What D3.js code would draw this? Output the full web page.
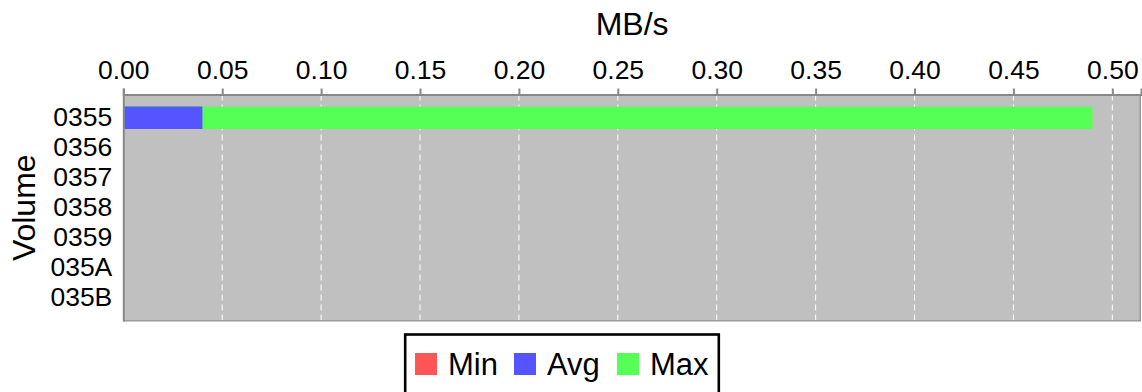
<!DOCTYPE html>
<html>
<head>
<meta charset="utf-8">
<script src="https://cdn.jsdelivr.net/npm/d3@7"></script>
<style>
  html, body { margin: 0; padding: 0; background: #fff; }
  svg { display: block; font-family: "Liberation Sans", Arial, sans-serif; }
</style>
</head>
<body>
<svg id="chart" width="1142" height="392"></svg>
<script>
const categories = ["0355", "0356", "0357", "0358", "0359", "035A", "035B"];
const minValues = [0, 0, 0, 0, 0, 0, 0];
const avgValues = [0.04, 0, 0, 0, 0, 0, 0];
const maxValues = [0.49, 0, 0, 0, 0, 0, 0];
const xTicks = [0, 0.05, 0.10, 0.15, 0.20, 0.25, 0.30, 0.35, 0.40, 0.45, 0.50];
const seriesNames = ["Min", "Avg", "Max"];
const seriesColors = ["#ff5555", "#5555ff", "#55ff55"];

const svg = d3.select("#chart");
const pLeft = 123.3, pRight = 1141, pTop = 94.5, pBottom = 321;

const x = d3.scaleLinear().domain([0, d3.max(maxValues) * 1.05]).range([pLeft, pRight]);
const y = d3.scaleBand().domain(categories).range([pTop, pBottom]).paddingInner(0.25).paddingOuter(0.4);

// plot background
svg.append("rect").attr("x", pLeft).attr("y", pTop).attr("width", pRight - pLeft).attr("height", pBottom - pTop)
  .attr("fill", "#c0c0c0");

// grid lines
svg.append("g").selectAll("line").data(xTicks.slice(1)).join("line")
  .attr("x1", d => x(d)).attr("x2", d => x(d))
  .attr("y1", pTop).attr("y2", pBottom)
  .attr("stroke", "#fff").attr("stroke-width", 1).attr("stroke-dasharray", "6,4");

// bars: max, avg, min layered
const layers = [
  {vals: maxValues, color: seriesColors[2]},
  {vals: avgValues, color: seriesColors[1]},
  {vals: minValues, color: seriesColors[0]}
];
layers.forEach(l => {
  svg.append("g").selectAll("rect").data(categories).join("rect")
    .attr("x", x(0))
    .attr("y", d => y(d))
    .attr("width", (d, i) => Math.max(0, x(l.vals[i]) - x(0)))
    .attr("height", y.bandwidth())
    .attr("fill", l.color);
});

// right & bottom border
svg.append("line").attr("x1", pRight - 0.8).attr("x2", pRight - 0.8).attr("y1", pTop).attr("y2", pBottom)
  .attr("stroke", "#999").attr("stroke-width", 1.6);
svg.append("line").attr("x1", pLeft).attr("x2", pRight).attr("y1", pBottom - 0.3).attr("y2", pBottom - 0.3)
  .attr("stroke", "#999").attr("stroke-width", 1.6);

// top axis
const xAxis = d3.axisTop(x).tickValues(xTicks).tickFormat(d3.format(".2f")).tickSize(6).tickPadding(10);
const gx = svg.append("g").attr("transform", `translate(0,${pTop})`).call(xAxis);
gx.select(".domain").attr("stroke", "#888").attr("stroke-width", 2);
gx.selectAll(".tick line").attr("stroke", "#888").attr("stroke-width", 2);
gx.selectAll(".tick text").attr("fill", "#000").style("font-size", "26.5px")
  .style("font-family", "'Liberation Sans', Arial, sans-serif");

// left axis
const yAxis = d3.axisLeft(y).tickSize(0).tickPadding(11);
const gy = svg.append("g").attr("transform", `translate(${pLeft},0)`).call(yAxis);
gy.select(".domain").attr("stroke", "#888").attr("stroke-width", 2);
gy.selectAll(".tick text").attr("fill", "#000").style("font-size", "26.5px")
  .style("font-family", "'Liberation Sans', Arial, sans-serif");

// axis titles
svg.append("text").attr("x", (pLeft + pRight) / 2).attr("y", 35).attr("text-anchor", "middle")
  .style("font-size", "32px").text("MB/s");
svg.append("text").attr("transform", `translate(35,${(pTop + pBottom) / 2}) rotate(-90)`)
  .attr("text-anchor", "middle").style("font-size", "32px").text("Volume");

// legend
const lg = svg.append("g");
lg.append("rect").attr("x", 405.2).attr("y", 334.5).attr("width", 313.6).attr("height", 80)
  .attr("fill", "#fff").attr("stroke", "#000").attr("stroke-width", 2.6);
const legendX = [415, 514, 617];
seriesNames.forEach((n, i) => {
  lg.append("rect").attr("x", legendX[i]).attr("y", 353).attr("width", 22).attr("height", 22)
    .attr("fill", seriesColors[i]);
  lg.append("text").attr("x", legendX[i] + 33).attr("y", 375).style("font-size", "31px").text(n);
});
</script>
</body>
</html>
